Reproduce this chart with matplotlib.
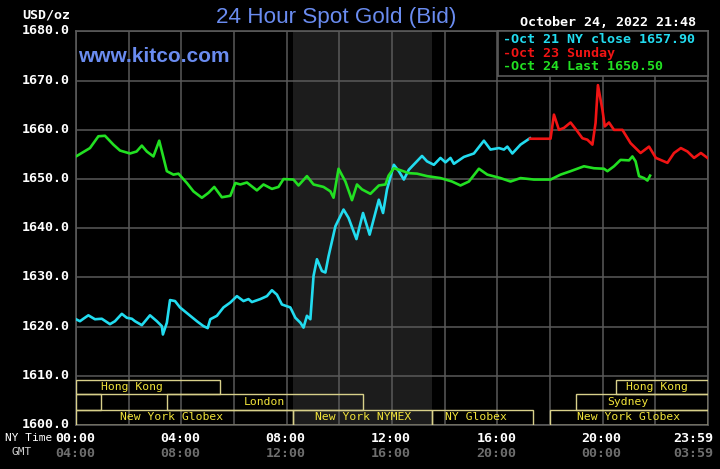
import matplotlib
matplotlib.use("Agg")
import matplotlib.pyplot as plt
from matplotlib.patches import Rectangle

# ---------------- data ----------------
cyan_h = [0.0, 0.15, 0.28, 0.47, 0.72, 0.98, 1.29, 1.48, 1.74, 1.93, 2.12, 2.24, 2.5, 2.81, 3.07,
          3.26, 3.3, 3.45, 3.57, 3.76, 3.95, 4.27, 4.59, 4.84, 5.0, 5.1, 5.35, 5.6, 5.86, 6.11,
          6.36, 6.55, 6.68, 7.0, 7.25, 7.44, 7.63, 7.82, 8.14, 8.33, 8.52, 8.64, 8.77, 8.9,
          9.02, 9.15, 9.34, 9.47, 9.59, 9.85, 10.16, 10.35, 10.65, 10.9, 11.15, 11.5, 11.66,
          11.81, 12.07, 12.26, 12.45, 12.64, 12.89, 13.14, 13.33, 13.59, 13.84, 14.03, 14.22,
          14.35, 14.73, 15.11, 15.49, 15.74, 16.06, 16.25, 16.38, 16.57, 16.88, 17.24]
cyan_v = [1621.5, 1621.1, 1621.6, 1622.3, 1621.5, 1621.6, 1620.5, 1621.1, 1622.6, 1621.8, 1621.6,
          1621.1, 1620.3, 1622.3, 1621.1, 1620.1, 1618.4, 1620.8, 1625.4, 1625.2, 1623.9, 1622.5,
          1621.1, 1620.1, 1619.7, 1621.5, 1622.2, 1623.9, 1624.9, 1626.2, 1625.2, 1625.6, 1625.0,
          1625.6, 1626.2, 1627.4, 1626.5, 1624.5, 1623.9, 1621.8, 1620.8, 1619.8, 1622.2, 1621.5,
          1630.3, 1633.7, 1631.3, 1631.0, 1634.3, 1640.4, 1643.8, 1642.1, 1637.8, 1643.1, 1638.7,
          1645.8, 1643.1, 1647.9, 1652.9, 1651.6, 1649.9, 1651.9, 1653.3, 1654.7, 1653.6, 1652.9,
          1654.3, 1653.4, 1654.3, 1653.1, 1654.5, 1655.2, 1657.8, 1656.0, 1656.3, 1656.0, 1656.6,
          1655.2, 1657.0, 1658.3]

red_h = [17.24, 18.02, 18.15, 18.34, 18.53, 18.78, 19.04, 19.23, 19.42, 19.61, 19.73, 19.82, 19.99,
         20.08, 20.24, 20.43, 20.75, 21.06, 21.44, 21.76, 22.02, 22.46, 22.71, 22.97, 23.22,
         23.47, 23.73, 23.98]
red_v = [1658.2, 1658.2, 1663.1, 1660.0, 1660.4, 1661.5, 1659.7, 1658.3, 1658.0, 1657.0, 1661.4,
         1669.1, 1664.1, 1660.7, 1661.5, 1660.0, 1660.0, 1657.3, 1655.3, 1656.6, 1654.3, 1653.3,
         1655.3, 1656.3, 1655.6, 1654.3, 1655.3, 1654.3]

green_h = [0.0, 0.53, 0.85, 1.1, 1.42, 1.67, 2.05, 2.3, 2.5, 2.69, 2.94, 3.16, 3.45, 3.7, 3.89,
           4.21, 4.46, 4.78, 5.03, 5.25, 5.54, 5.86, 6.05, 6.24, 6.49, 6.87, 7.12, 7.44, 7.69,
           7.88, 8.26, 8.45, 8.77, 9.02, 9.4, 9.66, 9.78, 9.97, 10.23, 10.48, 10.67, 10.86,
           11.18, 11.5, 11.75, 11.87, 12.07, 12.32, 12.64, 12.95, 13.33, 13.84, 14.28, 14.6,
           14.92, 15.3, 15.62, 16.12, 16.5, 16.88, 17.39, 18.02, 18.4, 18.78, 19.29, 19.67,
           20.05, 20.18, 20.43, 20.68, 21.0, 21.13, 21.25, 21.38, 21.57, 21.7, 21.8]
green_v = [1654.6, 1656.3, 1658.7, 1658.8, 1657.0, 1655.8, 1655.2, 1655.6, 1656.8, 1655.6, 1654.6,
           1657.8, 1651.6, 1650.9, 1651.1, 1649.2, 1647.5, 1646.2, 1647.2, 1648.4, 1646.3, 1646.6,
           1649.2, 1648.9, 1649.3, 1647.7, 1648.9, 1648.0, 1648.4, 1650.0, 1649.9, 1648.7, 1650.6,
           1648.9, 1648.4, 1647.5, 1646.2, 1652.1, 1649.5, 1645.7, 1648.9, 1647.9, 1647.0, 1648.7,
           1648.9, 1650.7, 1652.2, 1651.8, 1651.2, 1651.1, 1650.6, 1650.2, 1649.5, 1648.7, 1649.5,
           1652.1, 1650.9, 1650.2, 1649.5, 1650.2, 1649.9, 1649.9, 1650.9, 1651.6, 1652.6, 1652.2,
           1652.1, 1651.6, 1652.6, 1653.9, 1653.8, 1654.6, 1653.6, 1650.6, 1650.2, 1649.7, 1650.7]

y_ticks = [1600, 1610, 1620, 1630, 1640, 1650, 1660, 1670, 1680]
ny_ticks = [0, 4, 8, 12, 16, 20]
ny_labels = ["00:00", "04:00", "08:00", "12:00", "16:00", "20:00"]
gmt_labels = ["04:00", "08:00", "12:00", "16:00", "20:00", "00:00"]
end_ny_label = "23:59"
end_gmt_label = "03:59"

legend_labels = ["-Oct 21 NY close 1657.90", "-Oct 23 Sunday", "-Oct 24 Last 1650.50"]

# sessions: (row, start_hour, end_hour, label, label_hour)
sessions = [
    (0, 0.0, 5.47, "Hong Kong", 2.13),
    (0, 20.5, 24.0, "Hong Kong", 22.05),
    (1, 0.0, 0.95, "", 0),
    (1, 3.46, 10.9, "London", 7.15),
    (1, 19.0, 24.0, "Sydney", 20.97),
    (2, 0.0, 8.25, "New York Globex", 3.64),
    (2, 8.25, 13.5, "New York NYMEX", 10.9),
    (2, 13.5, 17.34, "NY Globex", 15.2),
    (2, 18.0, 24.0, "New York Globex", 21.0),
]
shade_start, shade_end = 8.25, 13.5

# ---------------- figure ----------------
W, H = 720, 469
fig = plt.figure(figsize=(W / 100, H / 100), dpi=100, facecolor="black")

def fx(px):
    return px / W

def fy(py):
    return 1 - py / H

left_px, right_px, top_px, bot_px = 76, 708, 31.5, 425
ax = fig.add_axes([fx(left_px), fy(bot_px), fx(right_px) - fx(left_px), fy(top_px) - fy(bot_px)])
ax.set_facecolor("black")
ax.set_xlim(0, 24)
ax.set_ylim(1600, 1680)

grid_c = "#5a5a5a"
for s in ax.spines.values():
    s.set_color(grid_c)
    s.set_linewidth(1.2)
ax.set_xticks(range(0, 25, 2))
ax.set_yticks(y_ticks)
ax.tick_params(length=0, labelbottom=False, labelleft=False)
ax.grid(True, color=grid_c, linewidth=1.1, zorder=1)
ax.set_axisbelow(True)

ax.axvspan(shade_start, shade_end, color="#1c1c1c", zorder=0.5, lw=0)

lw = 1.9
ax.plot(cyan_h, cyan_v, color="#22dcf0", lw=lw, zorder=3)
ax.plot(red_h, red_v, color="#f01414", lw=lw, zorder=3)
ax.plot(green_h, green_v, color="#22e022", lw=lw, zorder=4)

# session boxes
row_bounds = [(1606.3, 1609.1), (1603.1, 1606.3), (1600.1, 1603.1)]
box_edge = "#d8d08a"
lab_c = "#f2e43a"
for row, h0, h1, lab, lh in sessions:
    y0, y1 = row_bounds[row]
    ax.add_patch(Rectangle((h0, y0), h1 - h0, y1 - y0, facecolor="none",
                           edgecolor=box_edge, lw=1.0, zorder=5))
    if lab:
        ax.text(lh, (y0 + y1) / 2, lab, color=lab_c, fontsize=8.2, family="DejaVu Sans Mono",
                ha="center", va="center", zorder=6)

# legend box
lx0 = 498
leg_ax = fig.add_axes([fx(lx0), fy(76), fx(right_px) - fx(lx0), fy(top_px) - fy(76)])
leg_ax.set_facecolor("black")
leg_ax.set_xticks([])
leg_ax.set_yticks([])
for s in leg_ax.spines.values():
    s.set_color(grid_c)
    s.set_linewidth(1.2)
leg_colors = ["#22dcf0", "#f01414", "#22e022"]
for i, (t, c) in enumerate(zip(legend_labels, leg_colors)):
    fig.text(fx(503), fy(39.5 + i * 13.5), t, color=c, fontsize=9.6, family="DejaVu Sans Mono",
             fontweight="bold", ha="left", va="center")

# titles & texts
blue = "#6a8cf0"
fig.text(fx(336), fy(18), "24 Hour Spot Gold (Bid)", color=blue, fontsize=16.2,
         family="Liberation Sans", ha="center", va="center")
fig.text(fx(78), fy(56), "www.kitco.com", color=blue, fontsize=15,
         family="Liberation Sans", fontweight="bold", ha="left", va="center")
fig.text(fx(608), fy(23), "October 24, 2022 21:48", color="white", fontsize=9.6,
         family="DejaVu Sans Mono", fontweight="bold", ha="center", va="center")
fig.text(fx(70), fy(15), "USD/oz", color="white", fontsize=9.6, family="DejaVu Sans Mono",
         fontweight="bold", ha="right", va="center")

def ypx(v):
    return top_px + (1680 - v) * (bot_px - top_px) / 80

for v in y_ticks:
    fig.text(fx(70), fy(ypx(v) - 0.5), f"{v:.1f}", color="white", fontsize=9.6,
             family="DejaVu Sans Mono", fontweight="bold", ha="right", va="center")

def xpx(h):
    return left_px + h * (right_px - left_px) / 24

for h, l1, l2 in zip(ny_ticks, ny_labels, gmt_labels):
    fig.text(fx(xpx(h) - 1), fy(438), l1, color="white", fontsize=9.6, family="DejaVu Sans Mono",
             fontweight="bold", ha="center", va="center")
    fig.text(fx(xpx(h) - 1), fy(453.5), l2, color="#6e6e6e", fontsize=9.6,
             family="DejaVu Sans Mono", fontweight="bold", ha="center", va="center")
fig.text(fx(713), fy(438), end_ny_label, color="white", fontsize=9.6, family="DejaVu Sans Mono",
         fontweight="bold", ha="right", va="center")
fig.text(fx(713), fy(453.5), end_gmt_label, color="#6e6e6e", fontsize=9.6,
         family="DejaVu Sans Mono", fontweight="bold", ha="right", va="center")
fig.text(fx(52), fy(438), "NY Time", color="white", fontsize=8.0, family="DejaVu Sans Mono",
         ha="right", va="center")
fig.text(fx(22), fy(452), "GMT", color="#d0d0d0", fontsize=8.0, family="DejaVu Sans Mono",
         ha="center", va="center")

fig.savefig("out.png", dpi=100, facecolor="black")
